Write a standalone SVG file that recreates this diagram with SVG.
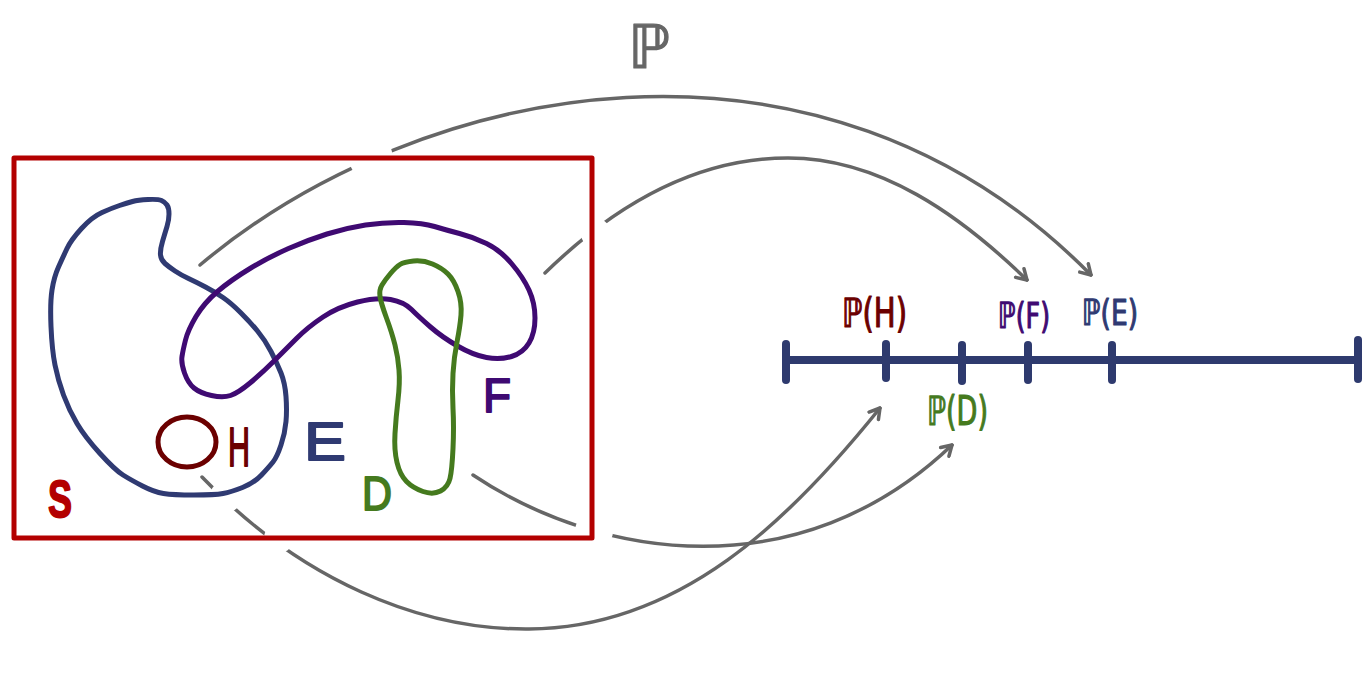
<svg xmlns="http://www.w3.org/2000/svg" width="1370" height="678" viewBox="0 0 1370 678">
<style>
.shape{fill:none;stroke-width:5;stroke-linejoin:round;stroke-linecap:round}
.arc{fill:none;stroke:#666;stroke-width:3.5;stroke-linecap:round}
.lbl{font-family:"Liberation Sans",Arial,sans-serif;stroke-width:1.8;stroke-linejoin:round}
.pl{font-family:"DejaVu Sans","Noto Sans",sans-serif;stroke-width:1.2;stroke-linejoin:round}
.tick{stroke:#2e3a6e;stroke-width:8;stroke-linecap:round}
</style>
<defs>
<marker id="ah" viewBox="-12 -8 14 16" markerWidth="14" markerHeight="16" refX="0" refY="0" orient="auto" markerUnits="userSpaceOnUse">
<path d="M-10,-6 L0,0 L-10,6" fill="none" stroke="#666" stroke-width="3.5" stroke-linecap="round" stroke-linejoin="round"/>
</marker>
<mask id="gaps" maskUnits="userSpaceOnUse" x="0" y="0" width="1370" height="678">
<rect x="0" y="0" width="1370" height="678" fill="#fff"/>
<circle cx="371" cy="158" r="22" fill="#000"/>
<circle cx="596" cy="233.5" r="15" fill="#000"/>
<circle cx="594" cy="531" r="19" fill="#000"/>
<circle cx="226" cy="496.5" r="16" fill="#000"/>
<circle cx="279" cy="538" r="15" fill="#000"/>
</mask>
</defs>
<rect width="1370" height="678" fill="#fff"/>

<g id="connectors" mask="url(#gaps)">
<path id="arc-E" class="arc" d="M200,265 C420,80 820,0 1091,275" marker-end="url(#ah)"/>
<path id="arc-F" class="arc" d="M545,273 C620,200 700,158 788,158 C880,158 960,215 1027,280" marker-end="url(#ah)"/>
<path id="arc-D" class="arc" d="M473,475 C600,560 800,590 952,445" marker-end="url(#ah)"/>
<path id="arc-H" class="arc" d="M202,477 C300,580 420,630 529,629 C680,628 790,520 880,408" marker-end="url(#ah)"/>
</g>

<g id="S">
<rect x="14" y="158" width="578" height="380" fill="none" stroke="#b30000" stroke-width="5" stroke-linejoin="round"/>
<text class="lbl" x="48" y="517" font-size="52" font-weight="bold" fill="#b30000" stroke="#b30000" textLength="24" lengthAdjust="spacingAndGlyphs">S</text>
</g>

<g id="E">
<path class="shape" stroke="#2f3a72" d="M132.5,201.5 Q138,200 148,199.5 Q158,199 161.5,200.5 Q165,202 167,205 Q169,208 169,214 Q169,220 167,226.5 Q165,233 162.5,241.5 Q160,250 160.5,255 Q161,260 165,263.5 Q169,267 175,271 Q181,275 188.5,278.5 Q196,282 205.5,287 Q215,292 223,297.5 Q231,303 240.5,312.5 Q250,322 257.5,331 Q265,340 271,351.5 Q277,363 281,373 Q285,383 286,396.5 Q287,410 286,421.5 Q285,433 281,445 Q277,457 273,462 Q269,467 261.5,475 Q254,483 242.5,487.5 Q231,492 223,493.5 Q215,495 194,495 Q173,495 163.5,493.5 Q154,492 142.5,486 Q131,480 123,475 Q115,470 100,453.5 Q85,437 77,423.5 Q69,410 63.5,395 Q58,380 55,365 Q52,350 51,326.5 Q50,303 52,290 Q54,277 58.5,267 Q63,257 67,248.5 Q71,240 81.5,228.5 Q92,217 102,212.5 Q112,208 119.5,205.5 Q127,203 132.5,201.5 Z"/>
<text class="lbl" x="304" y="460" font-size="54" fill="#2f3a72" stroke="#2f3a72" textLength="42" lengthAdjust="spacingAndGlyphs">E</text>
</g>

<g id="F">
<path class="shape" stroke="#3f0a72" d="M182,356.5 Q181,363 184.5,373 Q188,383 194,388 Q200,393 211.5,395.5 Q223,398 230.5,395.5 Q238,393 250,383 Q262,373 273.5,361.5 Q285,350 296.5,338.5 Q308,327 323,317 Q338,307 357.5,302 Q377,297 390.5,299.5 Q404,302 411.5,309.5 Q419,317 430.5,327 Q442,337 457.5,346 Q473,355 486.5,357.5 Q500,360 511.5,356.5 Q523,353 529,343 Q535,333 535,318 Q535,303 529,290 Q523,277 511.5,263.5 Q500,250 486.5,243.5 Q473,237 459.5,233.5 Q446,230 434.5,226.5 Q423,223 404,222.5 Q385,222 365.5,225 Q346,228 327,234 Q308,240 288.5,248.5 Q269,257 250,268.5 Q231,280 217.5,291.5 Q204,303 196,316.5 Q188,330 185.5,340 Q183,350 182,356.5 Z"/>
<text class="lbl" x="483" y="412" font-size="48" fill="#3f0a72" stroke="#3f0a72" textLength="28" lengthAdjust="spacingAndGlyphs">F</text>
</g>

<g id="D">
<path class="shape" stroke="#457a1e" d="M400,264.5 Q404,262 413.5,261 Q423,260 432.5,264 Q442,268 448,274 Q454,280 458,291.5 Q462,303 461,315 Q460,327 457,342 Q454,357 453,373.5 Q452,390 453,408.5 Q454,427 453,448.5 Q452,470 450,478.5 Q448,487 440.5,491 Q433,495 423,491.5 Q413,488 406.5,481.5 Q400,475 397,462.5 Q394,450 395,433.5 Q396,417 398,400 Q400,383 399,370 Q398,357 395,345 Q392,333 386.5,318 Q381,303 380,296.5 Q379,290 382,285 Q385,280 390.5,273.5 Q396,267 400,264.5 Z"/>
<text class="lbl" x="362" y="510" font-size="48" fill="#457a1e" stroke="#457a1e" textLength="30" lengthAdjust="spacingAndGlyphs">D</text>
</g>

<g id="H">
<ellipse class="shape" stroke="#6b0000" cx="187" cy="442" rx="29" ry="25"/>
<text class="lbl" x="228" y="466" font-size="55" fill="#6b0000" stroke="#6b0000" textLength="22" lengthAdjust="spacingAndGlyphs">H</text>
</g>

<g id="P-label">
<text class="pl" x="628" y="68" font-size="60" fill="#666" stroke="#666" stroke-width="0.6">ℙ</text>
</g>

<g id="number-line">
<line x1="786" y1="360" x2="1358" y2="360" stroke="#2e3a6e" stroke-width="8"/>
<line class="tick" x1="786" y1="344" x2="786" y2="380"/>
<line class="tick" x1="886" y1="344" x2="886" y2="378"/>
<line class="tick" x1="962" y1="345" x2="962" y2="381"/>
<line class="tick" x1="1028" y1="345" x2="1028" y2="380"/>
<line class="tick" x1="1112" y1="345" x2="1112" y2="380"/>
<line class="tick" x1="1358" y1="340" x2="1358" y2="379"/>
</g>

<g id="PH"><text class="pl" x="842" y="327" font-size="40" fill="#6b0000" stroke="#6b0000" textLength="65" lengthAdjust="spacingAndGlyphs">ℙ(H)</text></g>
<g id="PF"><text class="pl" x="998" y="328" font-size="36" fill="#3f0a72" stroke="#3f0a72" textLength="52" lengthAdjust="spacingAndGlyphs">ℙ(F)</text></g>
<g id="PE"><text class="pl" x="1082" y="325" font-size="36" fill="#2f3a72" stroke="#2f3a72" textLength="56" lengthAdjust="spacingAndGlyphs">ℙ(E)</text></g>
<g id="PD"><text class="pl" x="927" y="425" font-size="40" fill="#457a1e" stroke="#457a1e" textLength="61" lengthAdjust="spacingAndGlyphs">ℙ(D)</text></g>
</svg>
